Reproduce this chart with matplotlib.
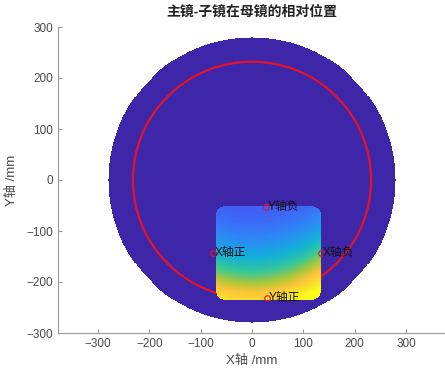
import numpy as np
import matplotlib
matplotlib.use('Agg')
import matplotlib.pyplot as plt
from matplotlib.colors import LinearSegmentedColormap

plt.rcParams['font.family'] = ['Liberation Sans', 'Noto Sans CJK SC', 'DejaVu Sans']

# geometry (mm)
disc_r = 280          # parent mirror
ring_r = 232          # red circle
sub_x = [-70, 134]    # sub-mirror extent
sub_y = [-235, -51]
corner_r = 18
bowl_k = 0.0025       # curvature of the colour bands on the sub-mirror

# labelled points
mark_x = [27, -76, 134, 29]
mark_y = [-53, -143, -143, -232]
mark_labels = ['Y轴负', 'X轴正', 'X轴负', 'Y轴正']

xticks = [-300, -200, -100, 0, 100, 200, 300]
yticks = [-300, -200, -100, 0, 100, 200, 300]

# parula-ish colormap
parula = LinearSegmentedColormap.from_list('parula', [
    (0.2422, 0.1504, 0.6603),
    (0.2810, 0.3228, 0.9579),
    (0.1786, 0.5289, 0.9682),
    (0.0689, 0.6948, 0.8394),
    (0.2161, 0.7843, 0.5923),
    (0.6720, 0.7793, 0.2227),
    (0.9970, 0.7659, 0.2199),
    (0.9657, 0.8779, 0.1708),
    (0.9769, 0.9839, 0.0805)])

fig = plt.figure(figsize=(4.45, 3.7), dpi=100)
ax = fig.add_axes([58/445, 37/370, 387/445, 306/370])

# parent mirror disc
g = np.arange(-300, 301, 2.0)
X, Y = np.meshgrid(g, g)
disc = np.ma.masked_where(X**2 + Y**2 > disc_r**2, np.zeros_like(X))
ax.pcolormesh(X, Y, disc, cmap=parula, vmin=0, vmax=1, shading='nearest', zorder=1)

# red ring
t = np.linspace(0, 2*np.pi, 400)
ax.plot(ring_r*np.cos(t), ring_r*np.sin(t), color='#e3132b', lw=1.6, zorder=2)

# sub-mirror (rounded rectangle) with gradient
sx = np.arange(sub_x[0], sub_x[1] + 0.1, 1.0)
sy = np.arange(sub_y[0], sub_y[1] + 0.1, 1.0)
SX, SY = np.meshgrid(sx, sy)
dx = np.clip(np.maximum(sub_x[0] + corner_r - SX, SX - (sub_x[1] - corner_r)), 0, None)
dy = np.clip(np.maximum(sub_y[0] + corner_r - SY, SY - (sub_y[1] - corner_r)), 0, None)
inside = dx**2 + dy**2 <= corner_r**2
val = np.clip(-SY + bowl_k * SX**2, 0, None) ** 2.5
val = np.ma.masked_where(~inside, val)
ax.pcolormesh(SX, SY, val, cmap=parula, vmin=-160000, vmax=1030000, shading='nearest', zorder=3)

# markers and labels
ax.plot(mark_x, mark_y, 'o', mfc='none', mec='#e3132b', ms=4, mew=0.8, zorder=4)
for x, y, s in zip(mark_x, mark_y, mark_labels):
    ax.annotate(s, (x, y), xytext=(1.5, 0), textcoords='offset points',
                ha='left', va='center', fontsize=8.5, color='#111111', zorder=5)

ax.set_xlim(-378, 376)
ax.set_ylim(-300, 300)
ax.set_xticks(xticks)
ax.set_yticks(yticks)
for sp in ['top', 'right']:
    ax.spines[sp].set_visible(False)
for sp in ['left', 'bottom']:
    ax.spines[sp].set_color('#9a9a9a')
ax.tick_params(direction='in', length=3, color='#9a9a9a', labelcolor='#4a4a4a', labelsize=8.5)
ax.set_xlabel('X轴 /mm', fontsize=9.5, color='#4a4a4a', labelpad=4)
ax.set_ylabel('Y轴 /mm', fontsize=9.5, color='#4a4a4a', labelpad=6)
ax.set_title('主镜-子镜在母镜的相对位置', fontsize=10, fontweight='bold', color='#222222', pad=8)

fig.savefig('out.png', dpi=100)
